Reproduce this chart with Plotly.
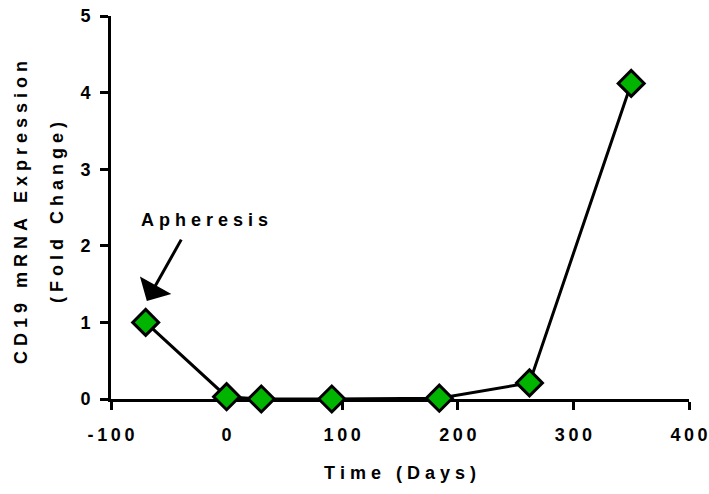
import plotly.graph_objects as go

# Data
days = [-70, 0, 30, 91, 184, 262, 350]
fold_change = [1.0, 0.03, 0.0, 0.0, 0.01, 0.21, 4.12]

x_ticks = [-100, 0, 100, 200, 300, 400]
y_ticks = [0, 1, 2, 3, 4, 5]

x_title = "Time (Days)"
y_title_1 = "CD19 mRNA Expression"
y_title_2 = "(Fold Change)"
note_text = "Apheresis"

NB = "\u00a0"
THIN = "\u2009"


def spaced(s, sep=NB):
    return sep.join(s)


FONT = "Liberation Sans, Arial, sans-serif"
BOLD = dict(family=FONT, size=18, color="black", weight="bold")

W, H = 709, 494
ML, MR, MT, MB = 111, 20, 16, 95


def px_to_paper(px, py):
    x = (px - ML) / (W - ML - MR)
    y = (H - MB - py) / (H - MB - MT)
    return x, y


fig = go.Figure()
fig.add_trace(go.Scatter(
    x=days, y=fold_change, mode="lines+markers",
    line=dict(color="black", width=3),
    marker=dict(symbol="diamond", size=20, color="#00b400",
                line=dict(color="black", width=3)),
    cliponaxis=False, showlegend=False, hoverinfo="skip",
))

axis_common = dict(
    showline=True, linecolor="black", linewidth=3,
    ticks="outside", ticklen=8, tickwidth=3, tickcolor="black",
    showgrid=False, zeroline=False, layer="below traces",
    tickfont=BOLD, ticklabeloverflow="allow", automargin=False,
)

fig.update_layout(
    width=W, height=H,
    margin=dict(l=ML, r=MR, t=MT, b=MB, autoexpand=False),
    plot_bgcolor="white", paper_bgcolor="white",
    xaxis=dict(range=[-100, 400], tickvals=x_ticks,
               ticktext=[spaced(str(v), THIN) for v in x_ticks],
               ticklabelstandoff=9,
               title=dict(text=spaced(x_title), standoff=23, font=BOLD),
               **axis_common),
    yaxis=dict(range=[0, 5], tickvals=y_ticks,
               ticktext=[str(v) for v in y_ticks],
               ticklabelstandoff=6,
               **axis_common),
)

# Y axis title as two separate rotated lines
for text, px in [(y_title_1, 21), (y_title_2, 57)]:
    ax_, ay_ = px_to_paper(px, 213)
    fig.add_annotation(x=ax_, y=ay_, xref="paper", yref="paper", text=spaced(text),
                       showarrow=False, textangle=-90, xanchor="center",
                       yanchor="middle", font=BOLD)

# Arrow
fig.add_annotation(x=-69, y=1.28, ax=-38.5, ay=2.10, xref="x", yref="y",
                   axref="x", ayref="y", text="", showarrow=True,
                   arrowhead=1, arrowsize=2, arrowwidth=3, arrowcolor="black")
# Label
fig.add_annotation(x=-18.7, y=2.34, xref="x", yref="y", text=spaced(note_text),
                   showarrow=False, font=BOLD)

fig.write_html("out.html", config={"displayModeBar": False},
               post_script="document.body.style.margin='0';")
